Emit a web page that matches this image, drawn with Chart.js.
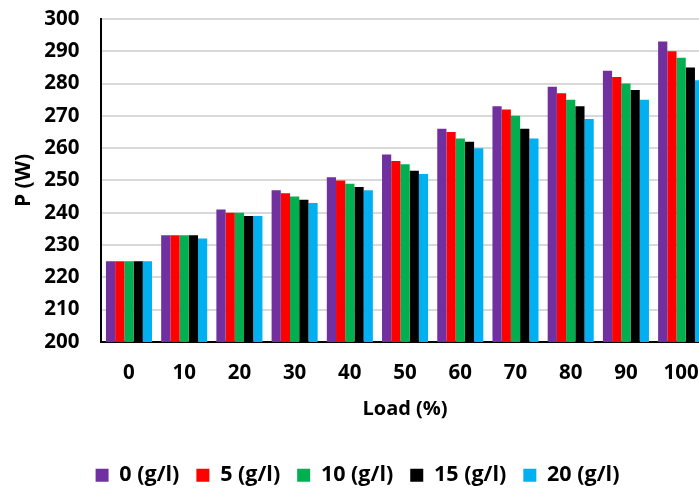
<!DOCTYPE html>
<html>
<head>
<meta charset="utf-8">
<script src="https://cdn.jsdelivr.net/npm/chart.js@4.4.1/dist/chart.umd.min.js"></script>
<style>
  html, body { margin: 0; padding: 0; background: #ffffff; overflow: hidden; }
  #wrap { position: relative; width: 718px; height: 489px; }
</style>
</head>
<body>
<div id="wrap"><canvas id="chart"></canvas></div>
<script>
// Load levels (%) along the x axis
const loads = ['0', '10', '20', '30', '40', '50', '60', '70', '80', '90', '100'];

// Power P (W) for each additive concentration
const p0  = [225, 233, 241, 247, 251, 258, 266, 273, 279, 284, 293];
const p5  = [225, 233, 240, 246, 250, 256, 265, 272, 277, 282, 290];
const p10 = [225, 233, 240, 245, 249, 255, 263, 270, 275, 280, 288];
const p15 = [225, 233, 239, 244, 248, 253, 262, 266, 273, 278, 285];
const p20 = [225, 232, 239, 243, 247, 252, 260, 263, 269, 275, 281];

const seriesNames = ['0 (g/l)', '5 (g/l)', '10 (g/l)', '15 (g/l)', '20 (g/l)'];
const seriesColors = ['#7030A0', '#FF0000', '#00B050', '#000000', '#00B0F0'];
const seriesData = [p0, p5, p10, p15, p20];

const FONT = "'Open Sans', 'Liberation Sans', sans-serif";

new Chart(document.getElementById('chart'), {
  type: 'bar',
  data: {
    labels: loads,
    datasets: seriesData.map((d, i) => ({
      label: seriesNames[i],
      data: d,
      backgroundColor: seriesColors[i],
      borderWidth: 0,
      barPercentage: 1.0,
      categoryPercentage: 0.834
    }))
  },
  options: {
    responsive: true,
    maintainAspectRatio: false,
    animation: false,
    layout: { padding: { top: 19, right: 6, left: 3, bottom: -7 } },
    plugins: {
      tooltip: { enabled: false },
      legend: {
        position: 'bottom',
        labels: {
          color: '#000000',
          font: { family: FONT, size: 21.5, weight: 'bold' },
          boxWidth: 13,
          boxHeight: 13,
          padding: 17
        }
      }
    },
    scales: {
      x: {
        z: 1, // axis line drawn over the bar bases
        grid: { display: false, drawTicks: false },
        border: { display: true, color: '#000000', width: 2 },
        ticks: { color: '#000000', font: { family: FONT, size: 20.5, weight: 'bold' }, padding: 19 },
        title: {
          display: true,
          text: 'Load (%)',
          color: '#000000',
          font: { family: FONT, size: 20, weight: 'bold' },
          padding: { top: -7, bottom: 26 }
        }
      },
      y: {
        min: 200,
        max: 300,
        ticks: {
          stepSize: 10,
          color: '#000000',
          font: { family: FONT, size: 20.5, weight: 'bold' },
          padding: 2
        },
        grid: {
          color: '#d9d9d9',
          lineWidth: 2,
          drawTicks: true,
          tickLength: 20,
          tickColor: 'rgba(0,0,0,0)'
        },
        border: { display: true, color: '#000000', width: 2 },
        title: {
          display: true,
          text: 'P (W)',
          color: '#000000',
          font: { family: FONT, size: 21, weight: 'bold' },
          padding: { top: 8, bottom: 6 }
        }
      }
    }
  }
});
</script>
</body>
</html>
